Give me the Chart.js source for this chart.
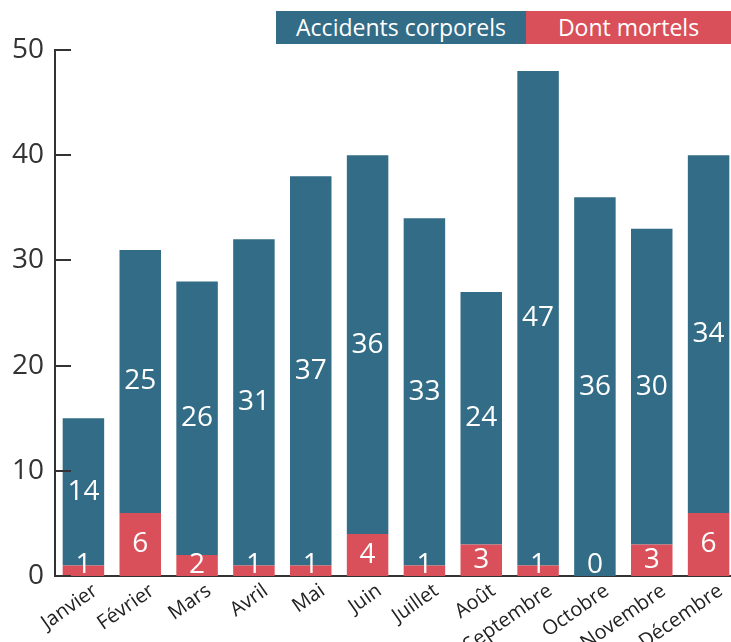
<!DOCTYPE html>
<html lang="fr">
<head>
<meta charset="utf-8">
<title>Accidents corporels et mortels par mois</title>
<script src="https://cdn.jsdelivr.net/npm/chart.js@4.4.1/dist/chart.umd.min.js"></script>
<style>
  html, body { margin: 0; padding: 0; background: #fff; overflow: hidden; }
  #wrap { position: relative; width: 731px; height: 642px; overflow: hidden; }
  #myChart { position: absolute; left: 0; top: 0; }
  .leg {
    position: absolute; top: 11px; height: 33px; line-height: 33px;
    color: #fff; font: 23px "Open Sans", sans-serif; text-align: center;
  }
</style>
</head>
<body>
<div id="wrap">
  <canvas id="myChart" width="737" height="642"></canvas>
  <div class="leg" id="legCorp" style="left:276px;width:250px;">Accidents corporels</div>
  <div class="leg" id="legMort" style="left:526px;width:205px;">Dont mortels</div>
</div>
<script>
  const months = ['Janvier', 'Février', 'Mars', 'Avril', 'Mai', 'Juin',
    'Juillet', 'Août', 'Septembre', 'Octobre', 'Novembre', 'Décembre']
  const mortels = [1, 6, 2, 1, 1, 4, 1, 3, 1, 0, 3, 6]
  const corporels = [14, 25, 26, 31, 37, 36, 33, 24, 47, 36, 30, 34]
  const yTicks = [0, 10, 20, 30, 40, 50]

  const BLUE = '#336c86'
  const RED = '#d9505a'
  const FONT = '"Open Sans", sans-serif'

  document.getElementById('legCorp').style.background = BLUE
  document.getElementById('legMort').style.background = RED

  // petits traits de graduation vers l'interieur
  const innerTicks = {
    id: 'innerTicks',
    afterDatasetsDraw (chart) {
      const y = chart.scales.y
      const c = chart.ctx
      c.save()
      c.strokeStyle = '#333'
      c.lineWidth = 2
      yTicks.forEach(v => {
        const py = Math.round(y.getPixelForValue(v))
        c.beginPath()
        c.moveTo(y.right, py)
        c.lineTo(y.right + 16, py)
        c.stroke()
      })
      c.restore()
    }
  }

  // valeurs dans les barres
  const barLabels = {
    id: 'barLabels',
    afterDatasetsDraw (chart) {
      const c = chart.ctx
      c.save()
      c.fillStyle = '#fff'
      c.font = '28px ' + FONT
      c.textAlign = 'center'
      c.textBaseline = 'middle'
      chart.data.datasets.forEach((ds, i) => {
        chart.getDatasetMeta(i).data.forEach((bar, j) => {
          const { x, y, base } = bar.getProps(['x', 'y', 'base'], true)
          let cy = (y + base) / 2
          if (i === 0) cy = Math.min(cy, base - 11)
          c.fillText(String(ds.data[j]), x, cy)
        })
      })
      c.restore()
    }
  }

  new Chart(document.getElementById('myChart'), {
    type: 'bar',
    data: {
      labels: months,
      datasets: [
        { label: 'Dont mortels', data: mortels, backgroundColor: RED },
        { label: 'Accidents corporels', data: corporels, backgroundColor: BLUE }
      ]
    },
    options: {
      responsive: false,
      animation: false,
      layout: { padding: { top: 50, right: 0, left: 0, bottom: 0 } },
      datasets: { bar: { barPercentage: 0.73, categoryPercentage: 1 } },
      plugins: {
        legend: { display: false },
        tooltip: { enabled: false }
      },
      scales: {
        x: {
          stacked: true,
          z: 1,
          grid: { display: false, drawTicks: false },
          border: { display: true, color: '#333', width: 2 },
          ticks: {
            color: '#222',
            font: { family: FONT, size: 20 },
            minRotation: 35,
            maxRotation: 35,
            labelOffset: 12,
            padding: 3,
            autoSkip: false
          },
          afterFit (s) { s.height = 66 }
        },
        y: {
          stacked: true,
          min: 0,
          max: 50,
          z: 1,
          grid: { display: false, drawTicks: false },
          border: { display: true, color: '#333', width: 2 },
          ticks: {
            stepSize: 10,
            color: '#333',
            padding: 11,
            font: { family: FONT, size: 28 }
          },
          afterFit (s) { s.width = 55 }
        }
      }
    },
    plugins: [innerTicks, barLabels]
  })
</script>
</body>
</html>
